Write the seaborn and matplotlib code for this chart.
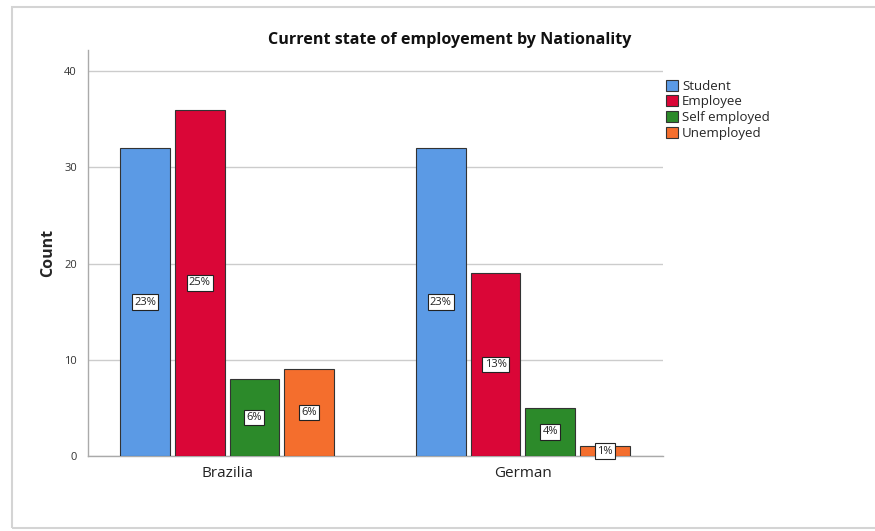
import matplotlib
matplotlib.use("Agg")
import matplotlib.pyplot as plt
import numpy as np
import pandas as pd
import seaborn as sns
from matplotlib.patches import Rectangle

nationality = ['Brazilia', 'German']
status = ['Student', 'Employee', 'Self employed', 'Unemployed']
brazilia_counts = [32, 36, 8, 9]
german_counts = [32, 19, 5, 1]
brazilia_pct = ['23%', '25%', '6%', '6%']
german_pct = ['23%', '13%', '4%', '1%']
colors = ['#5B9AE5', '#DA0637', '#2C8A2A', '#F46E2D']

df = pd.DataFrame({
    'Nationality': np.repeat(nationality, len(status)),
    'Status': status * 2,
    'Count': brazilia_counts + german_counts,
})

sns.set_style('white')
plt.rcParams['font.family'] = ['Open Sans', 'DejaVu Sans']

fig = plt.figure(figsize=(8.75, 5.31), dpi=100)
ax = fig.add_axes([0.1006, 0.1412, 0.657, 0.7646])

sns.barplot(data=df, x='Nationality', y='Count', hue='Status', order=nationality,
            hue_order=status, palette=colors, width=0.74, gap=0.09,
            edgecolor='#333333', linewidth=0.8, saturation=1, ax=ax, zorder=3)

# percentage boxes in the middle of each bar
for cont, lbl in zip(ax.containers, zip(brazilia_pct, german_pct)):
    ax.bar_label(cont, labels=list(lbl), label_type='center', fontsize=8,
                 color='#222222', zorder=5,
                 bbox=dict(boxstyle='square,pad=0.2', facecolor='white',
                           edgecolor='#222222', linewidth=0.8))

ax.set_ylim(0, 42.2)
ax.set_xlim(-0.47, 1.473)
ax.set_yticks([0, 10, 20, 30, 40])
ax.yaxis.grid(True, color='#cccccc', linewidth=1, zorder=0)
ax.tick_params(axis='y', labelsize=8, colors='#333333', length=0, pad=8)
ax.tick_params(axis='x', labelsize=11, colors='#222222', length=0, pad=7)
for s in ['top', 'right']:
    ax.spines[s].set_visible(False)
for s in ['left', 'bottom']:
    ax.spines[s].set_color('#aaaaaa')
    ax.spines[s].set_linewidth(1)
ax.set_xlabel('')
ax.set_ylabel('Count', fontsize=11.5, fontweight='bold', labelpad=6)

leg = ax.legend(loc='upper left', bbox_to_anchor=(0.99, 0.95), frameon=False,
                fontsize=9.5, handlelength=0.9, handleheight=0.9,
                handletextpad=0.3, labelspacing=0.2, borderaxespad=0.3)

fig.text(0.514, 0.925, 'Current state of employement by Nationality',
         ha='center', va='center', fontsize=11.6, fontweight='bold', color='#111111')

# screenshot frame
fig.add_artist(Rectangle((0.014, 0.006), 1.2, 0.981, transform=fig.transFigure,
                         fill=False, edgecolor='#d4d4d4', linewidth=1.5))

fig.savefig('out.png', dpi=100)
